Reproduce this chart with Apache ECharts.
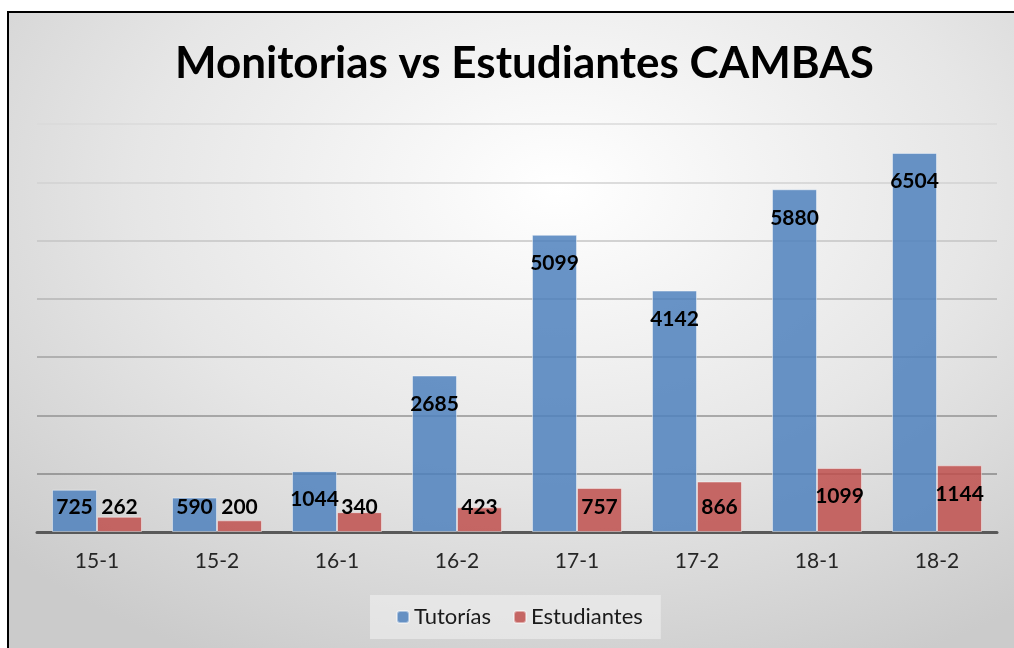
<!DOCTYPE html>
<html>
<head>
<meta charset="utf-8">
<script src="https://cdn.jsdelivr.net/npm/echarts@6/dist/echarts.min.js"></script>
<style>
  html, body { margin: 0; padding: 0; background: #fff; overflow: hidden; }
  #frame {
    position: absolute; left: 7px; top: 11px; width: 1100px; height: 700px;
    border: 2px solid #000;
    background: radial-gradient(ellipse 70% 75% at 50% 25%, #ffffff 0%, #e6e6e6 55%, #cbcbcb 100%);
  }
  #main { position: absolute; left: 0; top: 0; width: 1014px; height: 648px; }
</style>
</head>
<body>
<div id="frame"></div>
<div id="main"></div>
<script>
  // datos del gráfico
  const periodos = ['15-1', '15-2', '16-1', '16-2', '17-1', '17-2', '18-1', '18-2'];
  const tutorias = [725, 590, 1044, 2685, 5099, 4142, 5880, 6504];
  const estudiantes = [262, 200, 340, 423, 757, 866, 1099, 1144];

  const chart = echarts.init(document.getElementById('main'));

  // etiqueta dentro arriba, o abajo si la barra es corta
  const conEtiqueta = (arr) => arr.map(v => ({
    value: v,
    label: v < 1000
      ? { position: 'insideBottom', distance: 14 }
      : { position: 'insideTop', distance: 18 }
  }));

  const etiqueta = {
    show: true,
    color: '#000',
    fontFamily: 'Lato',
    fontWeight: 'bold',
    fontSize: 21
  };

  const option = {
    backgroundColor: 'transparent',
    animation: false,
    title: {
      text: 'Monitorias vs Estudiantes CAMBAS',
      left: 170,
      top: 37,
      textStyle: { fontFamily: 'Lato', fontWeight: 'bold', fontSize: 44, color: '#000' }
    },
    legend: {
      bottom: 9,
      left: 370,
      itemWidth: 12,
      itemHeight: 12,
      itemGap: 22,
      padding: [11, 18, 11, 26],
      backgroundColor: 'rgba(240,240,240,0.6)',
      textStyle: { fontFamily: 'Lato', fontSize: 22, color: '#1a1a1a' },
      data: ['Tutorías', 'Estudiantes']
    },
    grid: { left: 37, right: 17, top: 124, bottom: 116, containLabel: false },
    xAxis: {
      type: 'category',
      data: periodos,
      axisLine: { lineStyle: { color: '#595959', width: 3 } },
      axisTick: { show: false },
      axisLabel: { fontFamily: 'Lato', fontSize: 21, color: '#262626', margin: 19 }
    },
    yAxis: {
      type: 'value',
      min: 0,
      max: 7000,
      interval: 1000,
      axisLabel: { show: false },
      axisLine: { show: false },
      axisTick: { show: false },
      splitLine: {
        lineStyle: {
          width: 1.5,
          color: ['#888', '#888', '#939393', '#a2a2a2', '#b4b4b4', '#c4c4c4', '#d2d2d2', '#dadada']
        }
      }
    },
    series: [
      {
        name: 'Tutorías',
        type: 'bar',
        data: conEtiqueta(tutorias),
        barGap: '0%',
        barCategoryGap: '25%',
        itemStyle: { color: 'rgba(79,129,189,0.85)', borderColor: 'rgba(255,255,255,0.45)', borderWidth: 1 },
        label: etiqueta,
        z: 1
      },
      {
        name: 'Estudiantes',
        type: 'bar',
        data: conEtiqueta(estudiantes),
        itemStyle: { color: 'rgba(192,80,77,0.85)', borderColor: 'rgba(255,255,255,0.45)', borderWidth: 1 },
        label: etiqueta,
        z: 1
      }
    ]
  };

  chart.setOption(option);
</script>
</body>
</html>
